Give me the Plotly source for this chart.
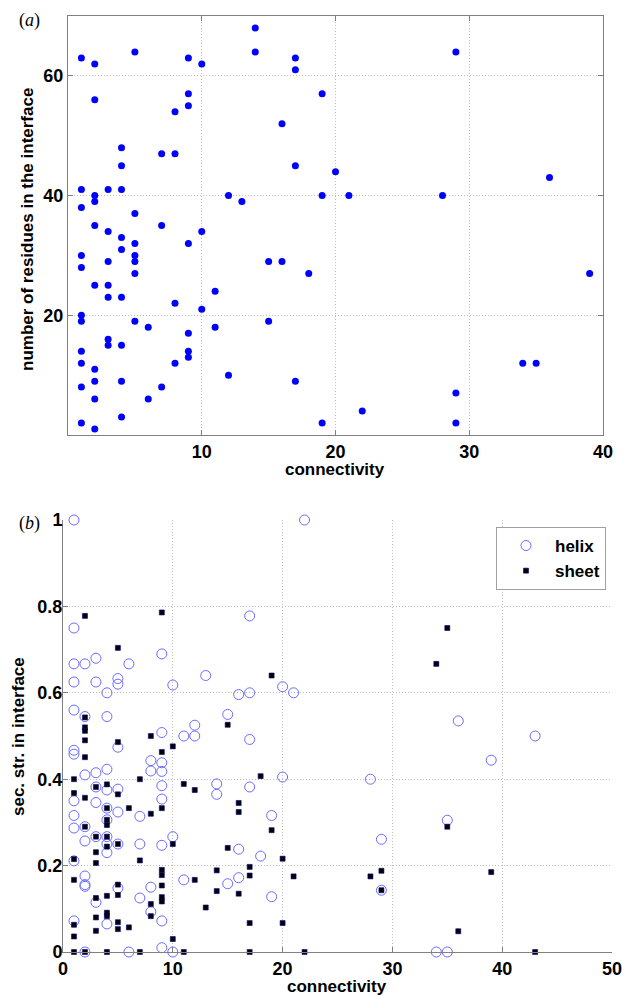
import plotly.graph_objects as go

W, H = 622, 996

# ---------- Panel (a) data ----------
a_conn = [1, 2, 5, 9, 10, 14, 14, 17, 17, 2, 9, 8, 9, 16, 4, 7, 8, 4, 17, 1, 3, 4, 2, 2, 1, 12, 13, 5, 2, 7,
          3, 10, 29, 19, 20, 19, 21, 28, 36, 4, 5, 9, 4, 1, 5, 3, 5, 15, 16, 1, 5, 18, 2, 3, 11, 3, 4, 8, 10, 1,
          1, 5, 15, 6, 11, 9, 3, 3, 4, 1, 9, 9, 1, 8, 2, 12, 2, 4, 17, 1, 7, 2, 6, 4, 1, 2, 19, 22, 29, 29,
          34, 35, 39]
a_res = [63, 62, 64, 63, 62, 68, 64, 63, 61, 56, 57, 54, 55, 52, 48, 47, 47, 45, 45, 41, 41, 41, 40, 39, 38, 40, 39, 37, 35, 35,
         34, 34, 64, 57, 44, 40, 40, 40, 43, 33, 32, 32, 31, 30, 30, 29, 29, 29, 29, 28, 27, 27, 25, 25, 24, 23, 23, 22, 21, 20,
         19, 19, 19, 18, 18, 17, 16, 15, 15, 14, 14, 13, 12, 12, 11, 10, 9, 9, 9, 8, 8, 6, 6, 3, 2, 1, 2, 4, 7, 2,
         12, 12, 27]

# ---------- Panel (b) data ----------
helix_conn = [1, 22, 1, 1, 2, 3, 1, 3, 4, 6, 5, 5, 9, 10, 13, 17, 16, 17, 20, 21, 1, 2, 4, 15, 12, 11, 12, 9, 17, 5,
              1, 1, 36, 43, 39,
              8, 9, 2, 3, 4, 8, 9, 14, 14, 17, 20, 28,
              1, 3, 3, 4, 5, 9, 9, 4, 7, 5, 19, 35,
              1, 1, 2, 4, 2, 3, 4, 4, 4, 5, 7, 9, 10, 16, 18, 29,
              1, 2, 2, 2, 3, 5, 7, 8, 8, 11, 15, 16, 19, 29,
              1, 4, 9, 9, 2, 6, 10, 34, 35]
helix_frac = [1.0, 1.0, 0.75, 0.667, 0.667, 0.68, 0.625, 0.625, 0.6, 0.667, 0.633, 0.62, 0.69, 0.618, 0.64, 0.778, 0.596, 0.6, 0.614, 0.6,
              0.56, 0.545, 0.545, 0.55, 0.525, 0.5, 0.5, 0.508, 0.492, 0.474,
              0.467, 0.458, 0.535, 0.5, 0.444,
              0.443, 0.438, 0.41, 0.415, 0.423, 0.419, 0.418, 0.389, 0.365, 0.382, 0.405, 0.4,
              0.35, 0.382, 0.346, 0.375, 0.377, 0.385, 0.354, 0.333, 0.314, 0.324, 0.316, 0.305,
              0.316, 0.287, 0.29, 0.306, 0.257, 0.267, 0.267, 0.25, 0.23, 0.25, 0.25, 0.247, 0.267, 0.238, 0.222, 0.261,
              0.211, 0.176, 0.156, 0.152, 0.115, 0.148, 0.125, 0.15, 0.093, 0.167, 0.158, 0.172, 0.128, 0.143,
              0.072, 0.065, 0.072, 0.01, 0.0, 0.0, 0.0, 0.0, 0.0]

sheet_conn = [2, 9, 5, 19, 35, 34, 2, 2, 2, 2, 5, 8, 9, 10, 15, 2,
              1, 7, 11, 12, 18, 1, 2, 3, 4, 5, 9, 4, 6, 8, 16, 16, 19,
              2, 4, 4, 3, 4, 4, 3, 5, 10, 15, 1, 3, 7, 20, 35,
              9, 9, 9, 9, 9, 1, 3, 4, 5, 5, 8, 8, 12, 14, 14, 13, 16, 17, 17, 17, 20, 21, 29, 28, 29, 36, 39,
              1, 1, 3, 3, 4, 4, 5, 5, 6, 10,
              1, 2, 4, 7, 11, 17, 22, 43]
sheet_frac = [0.778, 0.786, 0.704, 0.64, 0.75, 0.667, 0.543, 0.52, 0.512, 0.49, 0.486, 0.5, 0.463, 0.476, 0.526, 0.451,
              0.4, 0.4, 0.389, 0.375, 0.407, 0.368, 0.357, 0.382, 0.388, 0.365, 0.333, 0.333, 0.333, 0.32, 0.345, 0.324, 0.282,
              0.29, 0.306, 0.294, 0.267, 0.267, 0.244, 0.231, 0.25, 0.25, 0.241, 0.215, 0.206, 0.212, 0.216, 0.29,
              0.19, 0.178, 0.154, 0.127, 0.117, 0.167, 0.125, 0.13, 0.156, 0.132, 0.111, 0.083, 0.167, 0.141, 0.189, 0.103,
              0.135, 0.197, 0.177, 0.067, 0.067, 0.175, 0.188, 0.175, 0.143, 0.048, 0.185,
              0.063, 0.036, 0.08, 0.049, 0.091, 0.083, 0.069, 0.053, 0.057, 0.03,
              0.0, 0.0, 0.0, 0.0, 0.0, 0.0, 0.0, 0.0]

a_xticks = [10, 20, 30, 40]
a_yticks = [20, 40, 60]
b_xticks = [0, 10, 20, 30, 40, 50]
b_yticks = [0, 0.2, 0.4, 0.6, 0.8, 1]
b_yticktext = ["0", "0.2", "0.4", "0.6", "0.8", "1"]


def px_x(p):
    return p / W


def px_y(p):
    return 1 - p / H


fig = go.Figure()

fig.add_trace(go.Scatter(x=a_conn, y=a_res, mode="markers", xaxis="x", yaxis="y",
                         marker=dict(color="#0000ff", size=7), showlegend=False, cliponaxis=False))
fig.add_trace(go.Scatter(x=helix_conn, y=helix_frac, mode="markers", xaxis="x2", yaxis="y2",
                         name="helix", cliponaxis=False,
                         marker=dict(symbol="circle-open", color="#6b6bff", size=10, line=dict(width=1))))
fig.add_trace(go.Scatter(x=sheet_conn, y=sheet_frac, mode="markers", xaxis="x2", yaxis="y2",
                         name="sheet", cliponaxis=False,
                         marker=dict(symbol="square", color="#000000", size=5,
                                     line=dict(color="#00008b", width=0.6))))

tickfont = dict(family="Liberation Sans", size=18, color="#000000", weight="bold")
grid = dict(showgrid=True, gridcolor="#bdbdbd", griddash="1px,2px", gridwidth=1, zeroline=False,
            showline=True, linecolor="#808080", linewidth=1, ticks="inside", ticklen=5,
            tickcolor="#808080", tickfont=tickfont, automargin=False, ticklabeloverflow="allow")

fig.update_layout(
    width=W, height=H,
    margin=dict(l=0, r=0, t=0, b=0, pad=0, autoexpand=False),
    paper_bgcolor="white", plot_bgcolor="white",
    xaxis=dict(domain=[px_x(68), px_x(603)], range=[0, 40], tickvals=a_xticks, anchor="y",
               mirror="ticks", **grid),
    yaxis=dict(domain=[px_y(435), px_y(16)], range=[0, 70], tickvals=a_yticks, anchor="x",
               mirror="ticks", **grid),
    xaxis2=dict(domain=[px_x(63), px_x(612)], range=[0, 50], tickvals=b_xticks, anchor="y2", **grid),
    yaxis2=dict(domain=[px_y(952), px_y(520)], range=[0, 1], tickvals=b_yticks, ticktext=b_yticktext,
                anchor="x2", ticklabelstandoff=-4, **grid),
    legend=dict(x=px_x(606), y=px_y(527), xanchor="right", yanchor="top",
                bgcolor="white", bordercolor="#a0a0a0", borderwidth=1,
                font=dict(family="Liberation Sans", size=17, color="#000000", weight="bold"),
                tracegroupgap=0, itemwidth=48),
    showlegend=True,
)

title_font = dict(family="Liberation Sans", size=17, color="#000000", weight="bold")
ann = [
    dict(text="number of residues in the interface", x=px_x(28), y=px_y(230), textangle=-90, font=title_font),
    dict(text="connectivity", x=px_x(335), y=px_y(469), font=title_font),
    dict(text="sec. str. in interface", x=px_x(18), y=px_y(737), textangle=-90, font=title_font),
    dict(text="connectivity", x=px_x(337), y=px_y(986), font=title_font),
    dict(text="(<i>a</i>)", x=px_x(30), y=px_y(20), font=dict(family="Liberation Serif", size=18, color="#000000")),
    dict(text="(<i>b</i>)", x=px_x(30), y=px_y(523), font=dict(family="Liberation Serif", size=18, color="#000000")),
]
for a in ann:
    a.update(xref="paper", yref="paper", showarrow=False, xanchor="center", yanchor="middle")
fig.update_layout(annotations=ann)

fig.write_html("out.html", config={"displayModeBar": False},
               post_script="document.body.style.margin='0px';")
